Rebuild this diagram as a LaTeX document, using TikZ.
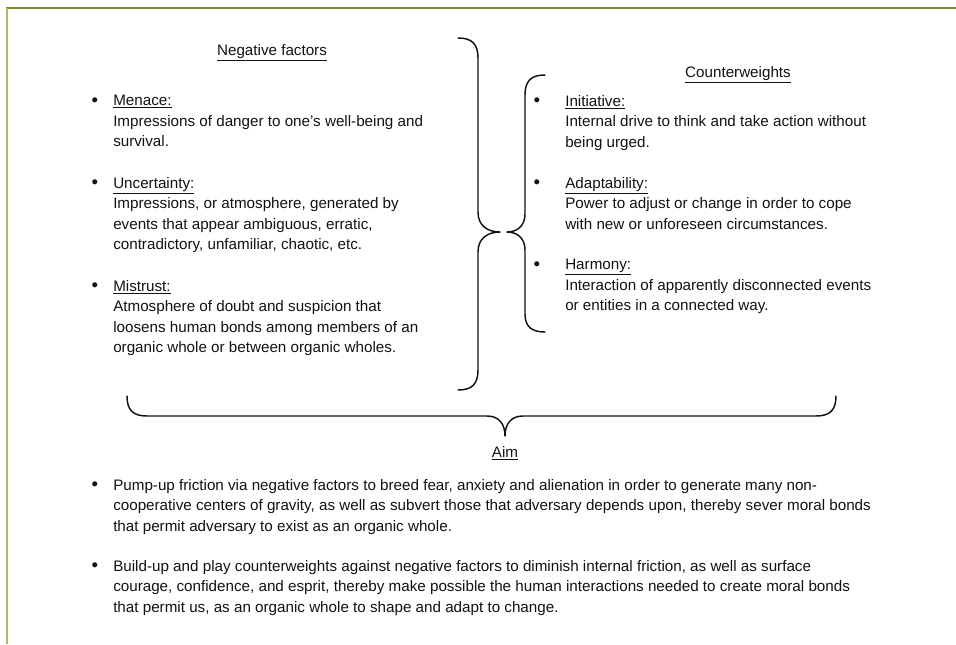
\documentclass[tikz,border=0pt]{standalone}
\usepackage{fontspec}
\setmainfont{Liberation Sans}
\definecolor{framegreen}{RGB}{122,142,38}
\definecolor{framelight}{RGB}{168,186,110}
\definecolor{ink}{RGB}{18,18,18}
\begin{document}
\begin{tikzpicture}[x=0.75pt,y=-0.75pt,
  body/.style={font=\fontsize{11.4}{15.4}\selectfont, text=ink},
  item/.style={body, align=left, anchor=north west, inner sep=0pt},
  heading/.style={body, inner sep=0pt, anchor=center},
  dot/.style={font=\fontsize{14}{15}\selectfont, text=ink, inner sep=0pt, anchor=center},
  brace/.style={line width=1.1pt, ink, line cap=round, line join=round}]
\useasboundingbox (0,0) rectangle (956,644);

% frame edges
\draw[framegreen, line width=1.5pt] (6,8) -- (956,8);
\draw[framelight, line width=1.5pt] (6.5,8) -- (6.5,644);

% ---------- negative factors ----------
\node[heading] (negh) at (272,53) {\underline{Negative factors}};

\node[dot] (b1) at (95,102) {\textbullet};
\node[item] (menace) at (113,95) {\underline{Menace:}\\Impressions of danger to one's well-being and\\survival.};

\node[dot] (b2) at (95,184) {\textbullet};
\node[item] (uncert) at (113,177) {\underline{Uncertainty:}\\Impressions, or atmosphere, generated by\\events that appear ambiguous, erratic,\\contradictory, unfamiliar, chaotic, etc.};

\node[dot] (b3) at (95,287) {\textbullet};
\node[item] (mistrust) at (113,280) {\underline{Mistrust:}\\Atmosphere of doubt and suspicion that\\loosens human bonds among members of an\\organic whole or between organic wholes.};

% ---------- counterweights ----------
\node[heading] (counth) at (738,75) {\underline{Counterweights}};

\node[dot] (b4) at (537,102) {\textbullet};
\node[item] (initiative) at (565,95) {\underline{Initiative:}\\Internal drive to think and take action without\\being urged.};

\node[dot] (b5) at (537,184) {\textbullet};
\node[item] (adapt) at (565,177) {\underline{Adaptability:}\\Power to adjust or change in order to cope\\with new or unforeseen circumstances.};

\node[dot] (b6) at (537,266) {\textbullet};
\node[item] (harmony) at (565,259) {\underline{Harmony:}\\Interaction of apparently disconnected events\\or entities in a connected way.};

% ---------- braces ----------
% large brace closing the negative factors
\draw[brace] (458,38) .. controls (472,38) and (478,44) .. (478,58)
  -- (478,212) .. controls (478,226) and (488,232) .. (500,232)
  .. controls (488,232) and (478,238) .. (478,252)
  -- (478,370) .. controls (478,384) and (472,390) .. (458,390);
% brace opening the counterweights
\draw[brace] (545,75) .. controls (531,75) and (525,81) .. (525,95)
  -- (525,214) .. controls (525,226) and (517,232) .. (507,232)
  .. controls (517,232) and (525,238) .. (525,250)
  -- (525,314) .. controls (525,326) and (531,332) .. (545,332);
% horizontal brace gathering both columns
\draw[brace] (127,396) .. controls (127,410) and (133,416) .. (147,416)
  -- (487,416) .. controls (499,416) and (505,424) .. (505,436)
  .. controls (505,424) and (511,416) .. (523,416)
  -- (816,416) .. controls (830,416) and (836,410) .. (836,396);

% ---------- aim ----------
\node[heading] (aimh) at (505,453) {\underline{Aim}};

\node[dot] (b7) at (95,486) {\textbullet};
\node[item] (pump) at (113,479) {Pump-up friction via negative factors to breed fear, anxiety and alienation in order to generate many non-\\cooperative centers of gravity, as well as subvert those that adversary depends upon, thereby sever moral bonds\\that permit adversary to exist as an organic whole.};

\node[dot] (b8) at (95,567) {\textbullet};
\node[item] (build) at (113,560) {Build-up and play counterweights against negative factors to diminish internal friction, as well as surface\\courage, confidence, and esprit, thereby make possible the human interactions needed to create moral bonds\\that permit us, as an organic whole to shape and adapt to change.};
\end{tikzpicture}
\end{document}
